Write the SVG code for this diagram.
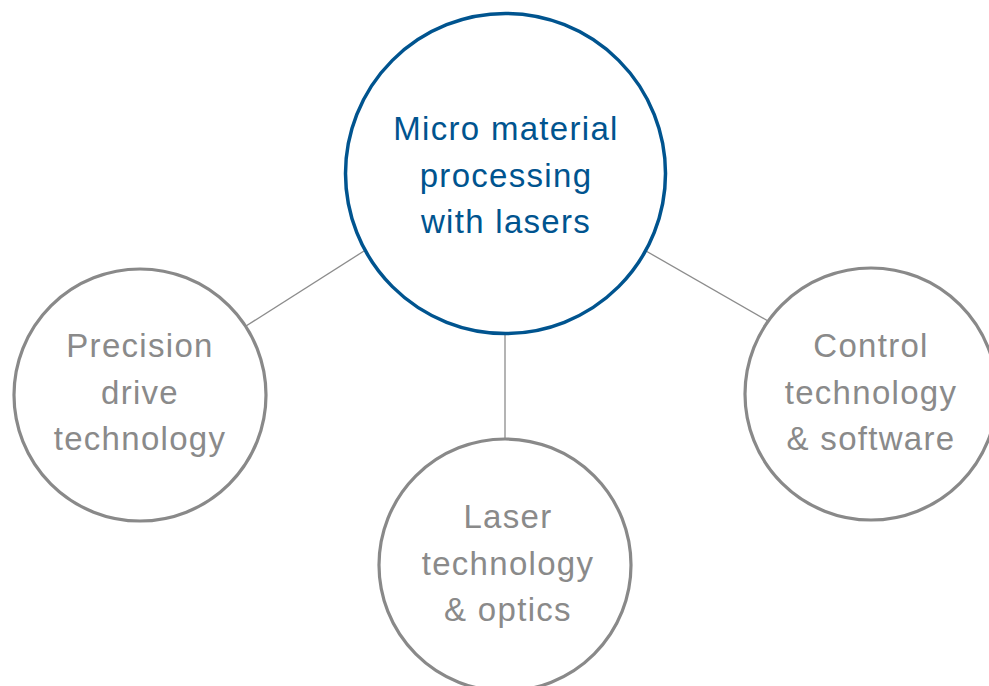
<svg xmlns="http://www.w3.org/2000/svg" width="989" height="686" viewBox="0 0 989 686">
<style>
.main{fill:#fff;stroke:#00548f;stroke-width:3.5}
.sub{fill:#fff;stroke:#898989;stroke-width:3.2}
.conn{stroke:#8c8c8c;stroke-width:1.3;fill:none}
text{font-family:"Liberation Sans",Arial,sans-serif;font-size:33px;text-anchor:middle;letter-spacing:1.3px}
.tm{fill:#00548f}
.ts{fill:#8a8a8a}
</style>
<rect width="989" height="686" fill="#fff"/>
<g id="connectors">
<line class="conn" x1="364" y1="251" x2="246" y2="326"/>
<line class="conn" x1="505" y1="333" x2="505" y2="439"/>
<line class="conn" x1="646" y1="251" x2="768" y2="321"/>
</g>
<g id="center">
<circle class="main" cx="505.5" cy="173.5" r="160"/>
<text class="tm" x="506" y="140">Micro material</text>
<text class="tm" x="506" y="187">processing</text>
<text class="tm" x="506" y="233">with lasers</text>
</g>
<g id="precision">
<circle class="sub" cx="140" cy="395" r="126"/>
<text class="ts" x="140" y="357">Precision</text>
<text class="ts" x="140" y="404">drive</text>
<text class="ts" x="140" y="450">technology</text>
</g>
<g id="laser">
<circle class="sub" cx="505" cy="565" r="126"/>
<text class="ts" x="508" y="528">Laser</text>
<text class="ts" x="508" y="575">technology</text>
<text class="ts" x="508" y="621">&amp; optics</text>
</g>
<g id="control">
<circle class="sub" cx="871" cy="394" r="126"/>
<text class="ts" x="871" y="357">Control</text>
<text class="ts" x="871" y="404">technology</text>
<text class="ts" x="871" y="450">&amp; software</text>
</g>
</svg>
